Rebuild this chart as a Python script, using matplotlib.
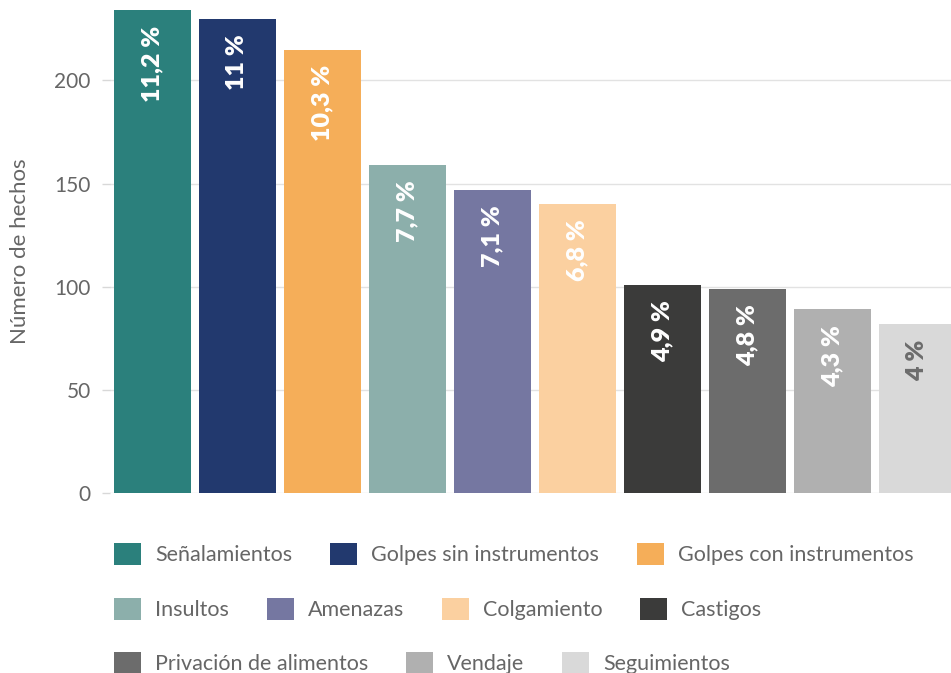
import numpy as np
import matplotlib
matplotlib.use("Agg")
import matplotlib.pyplot as plt
from matplotlib.patches import Patch

## data
categories = ["Señalamientos", "Golpes sin instrumentos", "Golpes con instrumentos",
              "Insultos", "Amenazas", "Colgamiento", "Castigos",
              "Privación de alimentos", "Vendaje", "Seguimientos"]
counts = [234, 230, 215, 159, 147, 140, 101, 99, 89, 82]
pct_labels = ["11,2 %", "11 %", "10,3 %", "7,7 %", "7,1 %", "6,8 %",
              "4,9 %", "4,8 %", "4,3 %", "4 %"]
colors = ["#2b807c", "#22396e", "#f5ae59", "#8cafab", "#7577a1", "#fbd0a0",
          "#3b3b3a", "#6c6c6c", "#b0b0b0", "#d9d9d9"]
label_colors = ["white"] * 9 + ["#6c6c6c"]
legend_rows = [[0, 1, 2], [3, 4, 5, 6], [7, 8, 9]]

plt.rcParams['font.family'] = ['Lato', 'DejaVu Sans']
txt_gray = "#666666"

fig = plt.figure(figsize=(9.51, 6.73), dpi=100)
# axes runs a little past the right edge, like the reference crop
ax = fig.add_axes([110 / 951, 180 / 673, 850 / 951, 493 / 673])

x = np.arange(len(categories))
bars = ax.bar(x, counts, width=0.906, color=colors, zorder=2)

for b, lab, c in zip(bars, pct_labels, label_colors):
    ax.annotate(lab, (b.get_x() + b.get_width() / 2, b.get_height()),
                xytext=(0, -11), textcoords="offset points",
                rotation=90, ha="center", va="top",
                color=c, fontsize=18, fontweight="heavy")

ax.set_xlim(-0.5, 9.5)
ax.set_ylim(0, 239)
ax.set_yticks([0, 50, 100, 150, 200])
ax.set_xticks([])
ax.yaxis.grid(True, color="#e2e2e2", linewidth=1, zorder=0)
for s in ax.spines.values():
    s.set_visible(False)
ax.tick_params(axis="y", length=6, width=1, color="#d8d8d8", pad=8,
               labelsize=15, labelcolor=txt_gray)
ax.set_ylabel("Número de hechos", fontsize=16, color=txt_gray)
ax.yaxis.set_label_coords(-80 / 850, 0.49)

## legend, one row at a time so the items flow like the reference
row_y = [554, 609, 663]
for row, yy in zip(legend_rows, row_y):
    handles = [Patch(facecolor=colors[i], edgecolor="none") for i in row]
    labels = [categories[i] for i in row]
    fig.legend(handles, labels, loc="center left",
               bbox_to_anchor=(114 / 951, 1 - yy / 673), ncol=len(row),
               frameon=False, fontsize=15.5, labelcolor=txt_gray,
               handlelength=1.26, handleheight=1.26, handletextpad=0.65,
               columnspacing=1.75, borderaxespad=0, borderpad=0)

fig.savefig("out.png", dpi=100)
